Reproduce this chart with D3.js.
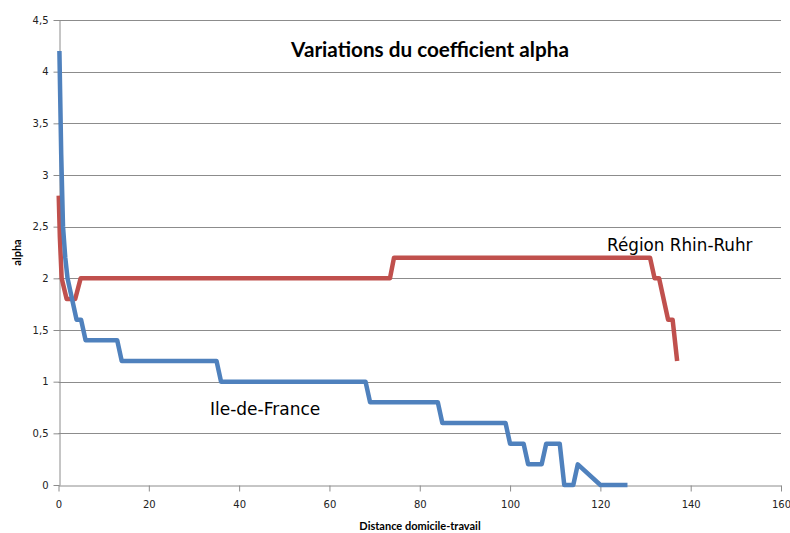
<!DOCTYPE html>
<html>
<head>
<meta charset="utf-8">
<script src="https://cdn.jsdelivr.net/npm/d3@7/dist/d3.min.js"></script>
<style>
  html, body { margin: 0; padding: 0; background: #fff; }
  svg { display: block; }
</style>
</head>
<body>
<div id="chart"></div>
<script>
// Commute distance (x) and alpha coefficient (y) breakpoints for each region
const ileDeFranceDistance = [0.2, 0.6, 1, 1.5, 2, 3, 4, 5, 6, 13, 14, 35, 36, 68, 69, 84, 85, 99, 100, 103, 104, 107, 108, 111, 112, 114, 115, 120, 126];
const ileDeFranceAlpha    = [4.2, 3.2, 2.5, 2.2, 2.0, 1.8, 1.6, 1.6, 1.4, 1.4, 1.2, 1.2, 1.0, 1.0, 0.8, 0.8, 0.6, 0.6, 0.4, 0.4, 0.2, 0.2, 0.4, 0.4, 0, 0, 0.2, 0, 0];

const rhinRuhrDistance = [0.05, 0.3, 0.7, 1.8, 3.7, 4.9, 73.4, 74.3, 131, 132, 133, 135, 136, 137];
const rhinRuhrAlpha    = [2.8, 2.4, 2.0, 1.8, 1.8, 2.0, 2.0, 2.2, 2.2, 2.0, 2.0, 1.6, 1.6, 1.2];

const xTicks = [0, 20, 40, 60, 80, 100, 120, 140, 160];
const yTicks = [0, 0.5, 1, 1.5, 2, 2.5, 3, 3.5, 4, 4.5];

const W = 790, H = 533;
const margin = { left: 58.5, right: 9, top: 20, bottom: 48 };

const svg = d3.select("#chart").append("svg")
  .attr("width", W).attr("height", H);

const x = d3.scaleLinear().domain([0, 160]).range([margin.left, W - margin.right]);
const y = d3.scaleLinear().domain([0, 4.5]).range([H - margin.bottom, margin.top]);

const fmt = d => String(d).replace(".", ",");

// horizontal gridlines
svg.append("g")
  .selectAll("line")
  .data(yTicks.filter(d => d > 0))
  .join("line")
  .attr("x1", x(0)).attr("x2", x(160))
  .attr("y1", d => Math.round(y(d)) + 0.5).attr("y2", d => Math.round(y(d)) + 0.5)
  .attr("stroke", "#8c8c8c").attr("stroke-width", 1);

// y axis
const yAxis = svg.append("g")
  .attr("transform", `translate(${Math.round(x(0)) + 0.5},0)`)
  .call(d3.axisLeft(y).tickValues(yTicks).tickFormat(fmt).tickSize(6).tickSizeOuter(0));

// x axis
const xAxis = svg.append("g")
  .attr("transform", `translate(0,${Math.round(y(0)) + 0.5})`)
  .call(d3.axisBottom(x).tickValues(xTicks).tickFormat(fmt).tickSize(6).tickSizeOuter(0));

[yAxis, xAxis].forEach(g => {
  g.select(".domain").attr("stroke", "#8c8c8c");
  g.selectAll(".tick line").attr("stroke", "#8c8c8c");
  g.selectAll(".tick text")
    .attr("fill", "#222")
    .style("font-family", "'DejaVu Sans', Verdana, sans-serif")
    .style("font-size", "10px");
});
yAxis.selectAll(".tick text").attr("x", -11);
xAxis.selectAll(".tick text").attr("y", 15);

// series lines
const line = d3.line().x(d => x(d[0])).y(d => y(d[1]));

function drawSeries(xs, ys, color) {
  svg.append("path")
    .datum(d3.zip(xs, ys))
    .attr("fill", "none")
    .attr("stroke", color)
    .attr("stroke-width", 4.5)
    .attr("stroke-linejoin", "round")
    .attr("d", line);
}

drawSeries(rhinRuhrDistance, rhinRuhrAlpha, "#c0504d");
drawSeries(ileDeFranceDistance, ileDeFranceAlpha, "#4f81bd");

// title
svg.append("text")
  .attr("x", 430).attr("y", 57)
  .attr("text-anchor", "middle")
  .style("font-family", "Lato, 'Open Sans', sans-serif")
  .style("font-weight", "bold")
  .style("font-size", "20.7px")
  .attr("fill", "#000")
  .text("Variations du coefficient alpha");

// axis titles
svg.append("text")
  .attr("transform", `translate(21,${y(2.25)}) rotate(-90)`)
  .attr("text-anchor", "middle")
  .style("font-family", "Lato, sans-serif")
  .style("font-weight", "bold")
  .style("font-size", "11px")
  .text("alpha");

svg.append("text")
  .attr("x", 420).attr("y", 530)
  .attr("text-anchor", "middle")
  .style("font-family", "Lato, sans-serif")
  .style("font-weight", "bold")
  .style("font-size", "11px")
  .text("Distance domicile-travail");

// series annotations
svg.append("text")
  .attr("x", 210).attr("y", 415)
  .style("font-family", "'DejaVu Sans', Verdana, sans-serif")
  .style("font-size", "17px")
  .text("Ile-de-France");

svg.append("text")
  .attr("x", 607).attr("y", 251)
  .style("font-family", "'DejaVu Sans', Verdana, sans-serif")
  .style("font-size", "16.8px")
  .text("Région Rhin-Ruhr");
</script>
</body>
</html>
